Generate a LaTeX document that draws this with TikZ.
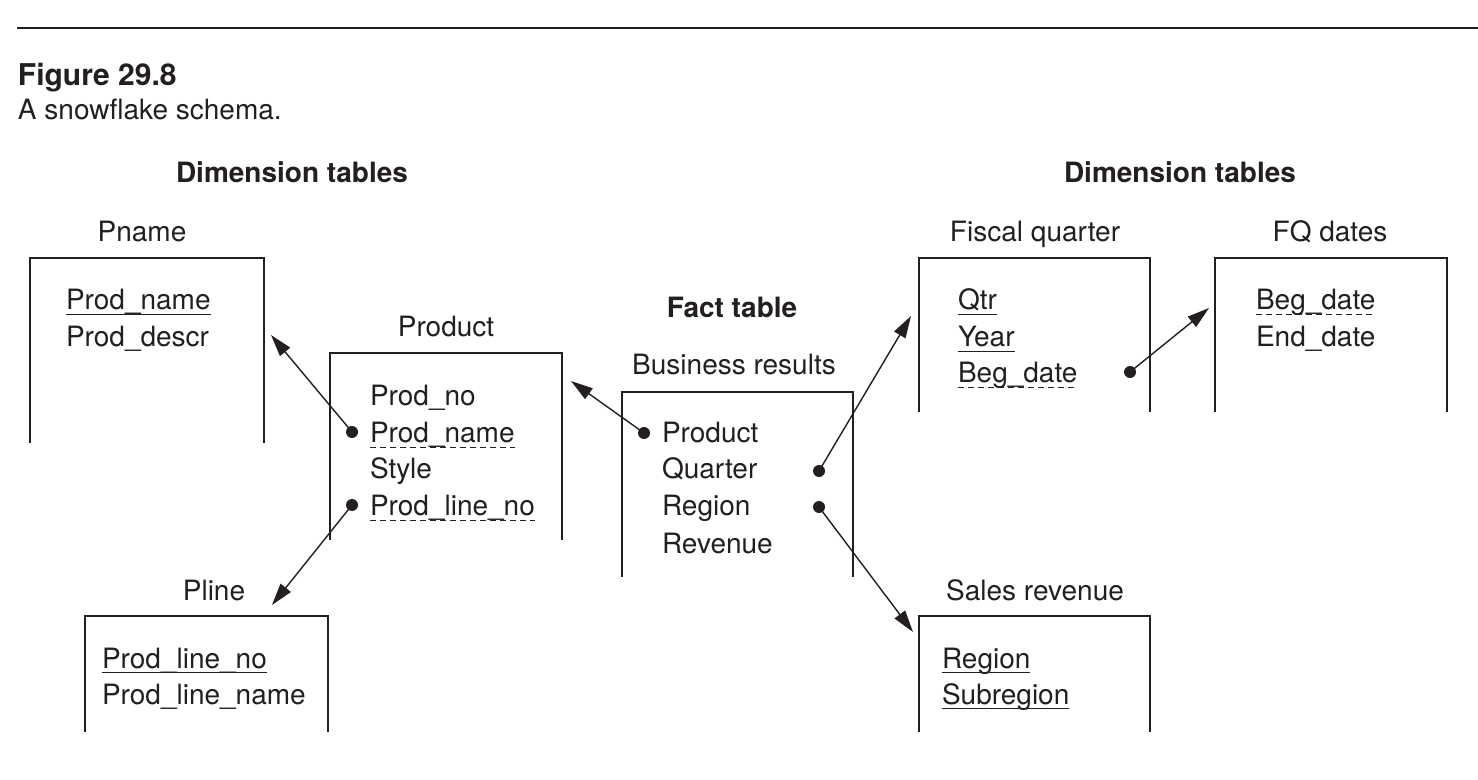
\documentclass[tikz,border=0pt]{standalone}
\usepackage{fontspec}
\setmainfont{TeX Gyre Heros}
\usetikzlibrary{arrows.meta}
\definecolor{ink}{RGB}{35,31,32}
\begin{document}
\begin{tikzpicture}[x=0.5pt,y=-0.5pt,
  every node/.style={inner sep=0pt,outer sep=0pt,text=ink,font=\fontsize{14}{16}\selectfont},
  hdr/.style={font=\fontsize{14}{16}\selectfont\bfseries},
  fld/.style={anchor=base west},
  ttl/.style={anchor=base},
  tbl/.style={draw=ink,line width=1pt},
  keyline/.style={draw=ink,line width=0.6pt},
  fkline/.style={draw=ink,line width=0.6pt,dash pattern=on 3pt off 2pt},
  arr/.style={draw=ink,line width=0.7pt,-{Triangle[length=11pt,width=6.5pt]}},
  dotmark/.style={fill=ink}]
\useasboundingbox (0,0) rectangle (1478,780);
\fill[white] (0,0) rectangle (1478,780);

% header
\draw[tbl] (17,28) -- (1478,28);
\node[fld,font=\fontsize{15}{17}\selectfont\bfseries] (fig) at (18,86) {Figure 29.8};
\node[fld] (cap) at (18,120) {A snowflake schema.};
\node[hdr,ttl] (dimL) at (292,183) {Dimension tables};
\node[hdr,ttl] (dimR) at (1180,183) {Dimension tables};
\node[hdr,ttl] (fact) at (732,318) {Fact table};

% table titles
\node[ttl] (tPname) at (142,242) {Pname};
\node[ttl] (tProduct) at (446,337) {Product};
\node[ttl] (tBiz) at (734,375) {Business results};
\node[ttl] (tFiscal) at (1035,242) {Fiscal quarter};
\node[ttl] (tFQ) at (1330,242) {FQ dates};
\node[ttl] (tPline) at (214,600) {Pline};
\node[ttl] (tSales) at (1035,600) {Sales revenue};

% open boxes
\draw[tbl] (30,443) -- (30,258) -- (264,258) -- (264,443);
\draw[tbl] (330,540) -- (330,353) -- (562,353) -- (562,540);
\draw[tbl] (622,577) -- (622,392) -- (853,392) -- (853,577);
\draw[tbl] (919,412) -- (919,258) -- (1150,258) -- (1150,412);
\draw[tbl] (1215,412) -- (1215,258) -- (1447,258) -- (1447,412);
\draw[tbl] (85,732) -- (85,616) -- (328,616) -- (328,732);
\draw[tbl] (919,732) -- (919,616) -- (1150,616) -- (1150,732);

% fields
\node[fld] (pn1) at (66,310) {Prod\_name};
\node[fld] (pn2) at (66,347) {Prod\_descr};

\node[fld] (pr1) at (370,406) {Prod\_no};
\node[fld] (pr2) at (370,443) {Prod\_name};
\node[fld] (pr3) at (370,479) {Style};
\node[fld] (pr4) at (370,516) {Prod\_line\_no};

\node[fld] (br1) at (662,443) {Product};
\node[fld] (br2) at (662,479) {Quarter};
\node[fld] (br3) at (662,516) {Region};
\node[fld] (br4) at (662,553) {Revenue};

\node[fld] (fq1) at (958,310) {Qtr};
\node[fld] (fq2) at (958,347) {Year};
\node[fld] (fq3) at (958,383) {Beg\_date};

\node[fld] (fd1) at (1256,310) {Beg\_date};
\node[fld] (fd2) at (1256,347) {End\_date};

\node[fld] (pl1) at (102,668) {Prod\_line\_no};
\node[fld] (pl2) at (102,704) {Prod\_line\_name};

\node[fld] (sr1) at (942,668) {Region};
\node[fld] (sr2) at (942,704) {Subregion};

% underlines
\foreach \n in {pn1,fq1,fq2,pl1,sr1,sr2}
  \draw[keyline] ([yshift=-2.4pt]\n.base west) -- ([yshift=-2.4pt]\n.base east);
\foreach \n in {pr2,pr4,fq3,fd1}
  \draw[fkline] ([yshift=-2.4pt]\n.base west) -- ([yshift=-2.4pt]\n.base east);

% dots and arrow tips
\coordinate (d1) at (352,432);
\coordinate (d2) at (352,505);
\coordinate (d3) at (644,433);
\coordinate (d4) at (819,471);
\coordinate (d5) at (819,507);
\coordinate (d6) at (1130,372);
\coordinate (t1) at (271,335);
\coordinate (t2) at (272,605);
\coordinate (t3) at (571,381);
\coordinate (t4) at (911,316);
\coordinate (t5) at (913,632);
\coordinate (t6) at (1209,308);

\foreach \d in {d1,d2,d3,d4,d5,d6}
  \fill[dotmark] (\d) circle[radius=3pt];

\draw[arr] (d1) -- (t1);
\draw[arr] (d2) -- (t2);
\draw[arr] (d3) -- (t3);
\draw[arr] (d4) -- (t4);
\draw[arr] (d5) -- (t5);
\draw[arr] (d6) -- (t6);
\end{tikzpicture}
\end{document}
